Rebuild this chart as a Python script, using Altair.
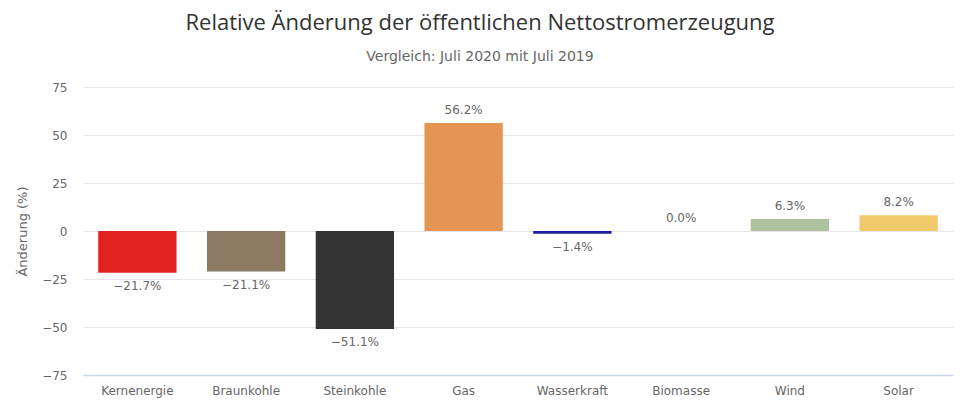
import altair as alt
import pandas as pd

categories = ["Kernenergie", "Braunkohle", "Steinkohle", "Gas", "Wasserkraft", "Biomasse", "Wind", "Solar"]
values = [-21.7, -21.1, -51.1, 56.2, -1.4, 0.0, 6.3, 8.2]
colors = ["#E32322", "#8C7A63", "#333333", "#E59553", "#1C1C9E", "#B8D9A0", "#AFC29F", "#F0C96A"]

df = pd.DataFrame({"Kategorie": categories, "Wert": values})

FONT = "DejaVu Sans"
TFONT = "Open Sans"

x = alt.X("Kategorie:N", sort=categories, title=None,
          scale=alt.Scale(paddingInner=0.28, paddingOuter=0.14),
          axis=alt.Axis(labelAngle=0, labelFontSize=12, labelColor="#666666", labelFont=FONT,
                        ticks=False, domain=True, domainColor="#ccd6eb", domainWidth=1.5,
                        labelPadding=10, grid=False))
y = alt.Y("Wert:Q", title="Änderung (%)",
          scale=alt.Scale(domain=[-75, 75], nice=False),
          axis=alt.Axis(values=[-75, -50, -25, 0, 25, 50, 75], labelFontSize=12, labelColor="#666666",
                        labelFont=FONT, ticks=False, domain=False, grid=True, gridColor="#e6e6e6",
                        labelPadding=16, titleFontSize=13, titleColor="#666666", titleFont=FONT,
                        titleFontWeight="normal", titlePadding=12))

base = alt.Chart(df)

bars = base.mark_bar().encode(
    x=x, y=y, y2=alt.datum(0),
    color=alt.Color("Kategorie:N", scale=alt.Scale(domain=categories, range=colors), legend=None),
)

lab = base.transform_calculate(label="format(datum.Wert, '.1f') + '%'")

pos = lab.transform_filter("datum.Wert >= 0").mark_text(
    baseline="bottom", dy=-6, fontSize=12, color="#666666", font=FONT
).encode(x=alt.X("Kategorie:N", sort=categories), y="Wert:Q", text="label:N")

neg = lab.transform_filter("datum.Wert < 0").mark_text(
    baseline="top", dy=8, fontSize=12, color="#666666", font=FONT
).encode(x=alt.X("Kategorie:N", sort=categories), y="Wert:Q", text="label:N")

chart = alt.layer(bars, pos, neg).properties(
    width=870, height=288,
    background="white",
    title=alt.TitleParams(
        text="Relative Änderung der öffentlichen Nettostromerzeugung",
        subtitle="Vergleich: Juli 2020 mit Juli 2019",
        anchor="middle", fontSize=22, font=TFONT, fontWeight="normal", color="#333333",
        subtitleFontSize=14, subtitleFont=FONT, subtitleColor="#666666", subtitlePadding=15,
        offset=16, dx=-38,
    ),
    autosize=alt.AutoSizeParams(type="none"),
    padding={"left": 83, "top": 87, "right": 7, "bottom": 28},
).configure_view(stroke=None, strokeWidth=0).configure_axisY(domain=False)

chart.save("out.html", embed_options={"renderer": "svg", "actions": False})
